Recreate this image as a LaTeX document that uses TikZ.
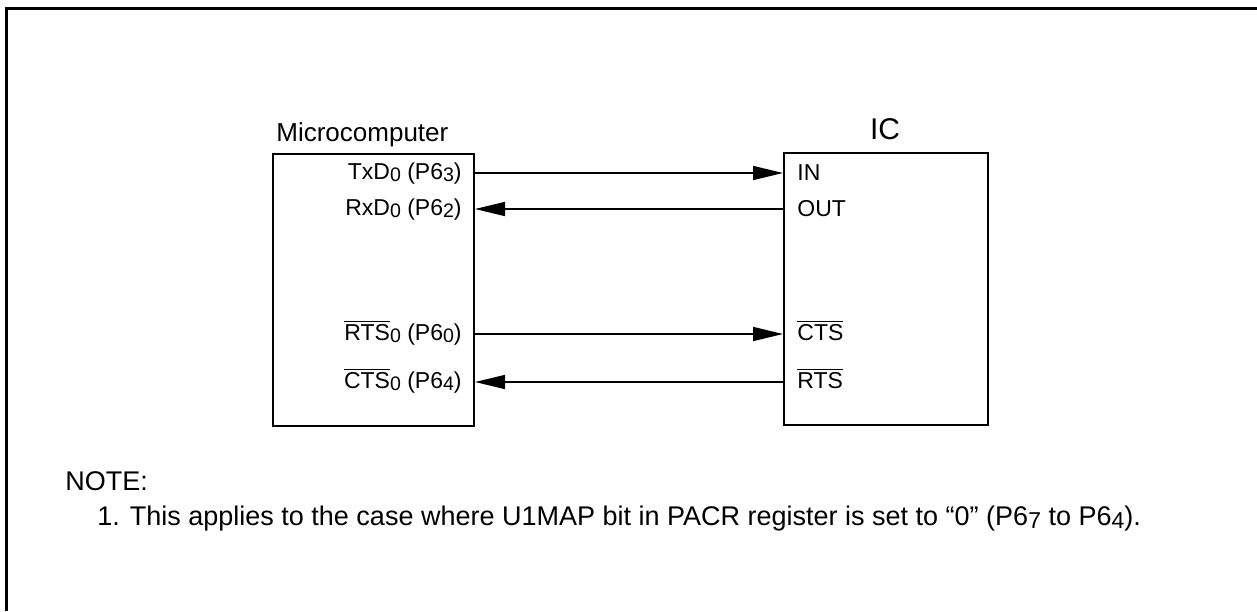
\documentclass[tikz,border=0pt]{standalone}
\usepackage{fontspec}
\setmainfont{Liberation Sans}
\usepackage{tikz}
\usetikzlibrary{arrows.meta,positioning}
\definecolor{inkblack}{RGB}{0,0,0}
\newcommand{\lo}[1]{\raisebox{-0.12em}{\scalebox{0.85}{#1}}}
\newcommand{\negsig}[1]{$\overline{\mbox{#1}}$}
\tikzset{
  chip/.style={draw=inkblack,line width=1pt,inner sep=0pt,anchor=north west},
  pinlabel/.style={font=\fontsize{11.5}{13}\selectfont,inner sep=0pt},
  title/.style={font=\fontsize{13}{15}\selectfont,inner sep=0pt,anchor=base west},
  sig/.style={-{Triangle[length=15pt,width=7pt]},line width=0.8pt,draw=inkblack},
  notetext/.style={font=\fontsize{13.5}{15}\selectfont,inner sep=0pt,anchor=base west}
}

\begin{document}
\begin{tikzpicture}[x=0.5pt,y=-0.5pt]
  \useasboundingbox (0,0) rectangle (1257,611);
  \draw[line width=1.5pt] (6,611) -- (6,8) -- (1257,8);
  % the two packages
  \node[chip,minimum width=100.5pt,minimum height=136pt] (micro) at (272,153) {};
  \node[chip,minimum width=102pt,minimum height=136pt] (ic) at (783,152) {};
  \node[title] (microname) at (276,141) {Microcomputer};
  \node[font=\fontsize{15}{17}\selectfont,inner sep=0pt,anchor=base] (icname) at (885,139) {IC};
  % pins of the microcomputer
  \node[pinlabel,anchor=base east] (txd) at (462,179) {TxD\lo{0} (P6\lo{3})};
  \node[pinlabel,anchor=base east] (rxd) at (462,215) {RxD\lo{0} (P6\lo{2})};
  \node[pinlabel,anchor=base east] (rts) at (462,340) {\negsig{RTS}\lo{0} (P6\lo{0})};
  \node[pinlabel,anchor=base east] (cts) at (462,388) {\negsig{CTS}\lo{0} (P6\lo{4})};
  % pins of the IC
  \node[pinlabel,anchor=base west] (in) at (797,180) {IN};
  \node[pinlabel,anchor=base west] (out) at (797,216) {OUT};
  \node[pinlabel,anchor=base west] (ctsin) at (797,340) {\negsig{CTS}};
  \node[pinlabel,anchor=base west] (rtsout) at (797,388) {\negsig{RTS}};
  \path (micro.east |- 0,173) coordinate (m1) (micro.east |- 0,209) coordinate (m2)
        (micro.east |- 0,334) coordinate (m3) (micro.east |- 0,382) coordinate (m4)
        (ic.west |- 0,173) coordinate (c1) (ic.west |- 0,209) coordinate (c2)
        (ic.west |- 0,334) coordinate (c3) (ic.west |- 0,382) coordinate (c4);
  \draw[sig] (m1) -- (c1);
  \draw[sig] (c2) -- (m2);
  \draw[sig] (m3) -- (c3);
  \draw[sig] (c4) -- (m4);
  \node[notetext] (note) at (65,490) {NOTE:};
  \node[notetext] (note1) at (97,525) {1. This applies to the case where U1MAP bit in PACR register is set to “0” (P6\lo{7} to P6\lo{4}).};
\end{tikzpicture}
\end{document}
